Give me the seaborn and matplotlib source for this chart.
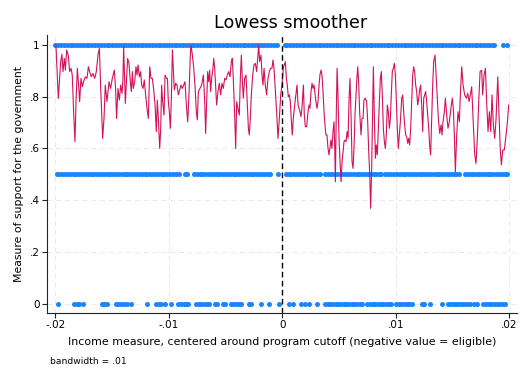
import numpy as np
import pandas as pd
import matplotlib
matplotlib.use("Agg")
import matplotlib.pyplot as plt
import seaborn as sns

# ---------------- data ----------------
# scatter rows (x positions of observations at each outcome level)
x_one = [-0.02, -0.01975, -0.0195, -0.01925, -0.019, -0.01875, -0.0185, -0.01825, -0.018, -0.01775,
         -0.0175, -0.01725, -0.017, -0.01675, -0.0165, -0.01625, -0.016, -0.01575, -0.0155, -0.01525,
         -0.015, -0.01475, -0.0145, -0.01425, -0.014, -0.01375, -0.0135, -0.01325, -0.013, -0.01275,
         -0.0125, -0.01225, -0.012, -0.01175, -0.0115, -0.01125, -0.011, -0.01075, -0.0105, -0.01025,
         -0.01, -0.00975, -0.0095, -0.00925, -0.009, -0.00875, -0.0085, -0.00825, -0.008, -0.00775,
         -0.0075, -0.00725, -0.007, -0.00675, -0.0065, -0.00625, -0.006, -0.00575, -0.0055, -0.00525,
         -0.005, -0.00475, -0.0045, -0.00425, -0.004, -0.00375, -0.0035, -0.00325, -0.003, -0.00275,
         -0.0025, -0.00225, -0.002, -0.00175, -0.0015, -0.00125, -0.001, -0.00075, -0.0005,
         0.0002, 0.00045, 0.0007, 0.00095, 0.0012, 0.00145, 0.0017, 0.00195, 0.0022, 0.00245,
         0.0027, 0.00295, 0.0032, 0.00345, 0.0037, 0.00395, 0.0042, 0.00445, 0.0047, 0.00495,
         0.0052, 0.00545, 0.0057, 0.00595, 0.0062, 0.00645, 0.0067, 0.00695, 0.0072, 0.00745,
         0.0077, 0.00795, 0.0082, 0.00845, 0.0087, 0.00895, 0.0092, 0.00945, 0.0097, 0.00995,
         0.0102, 0.01045, 0.0107, 0.01095, 0.0112, 0.01145, 0.0117, 0.01195, 0.0122, 0.01245,
         0.0127, 0.01295, 0.0132, 0.01345, 0.0137, 0.01395, 0.0142, 0.01445, 0.0147, 0.01495,
         0.0152, 0.01545, 0.0157, 0.01595, 0.0162, 0.01645, 0.0167, 0.01695, 0.0172, 0.01745,
         0.0177, 0.01795, 0.0182, 0.01845, 0.0187, 0.0195, 0.0198]

x_half = [-0.0199, -0.01965, -0.0194, -0.01915, -0.0189, -0.01865, -0.0184, -0.01815, -0.0179, -0.01765,
          -0.0174, -0.01715, -0.0169, -0.01665, -0.0164, -0.01615, -0.0159, -0.01565, -0.0154, -0.01515,
          -0.0149, -0.01465, -0.0144, -0.01415, -0.0139, -0.01365, -0.0134, -0.01315, -0.0129, -0.01265,
          -0.0124, -0.01215, -0.0119, -0.01165, -0.0114, -0.01115, -0.0109, -0.01065, -0.0104, -0.01015,
          -0.0099, -0.00965, -0.0094, -0.00915, -0.00858, -0.0084,
          -0.0078, -0.00755, -0.0073, -0.00705, -0.0068, -0.00655, -0.0063, -0.00605, -0.0058, -0.00555,
          -0.0053, -0.00505, -0.0048, -0.00455, -0.0043, -0.00405, -0.0038, -0.00355, -0.0033, -0.00305,
          -0.0028, -0.00255, -0.0023, -0.00205, -0.0018, -0.00155, -0.0013, -0.00105, -0.0004,
          0.0003, 0.00055, 0.0008, 0.00105, 0.0013, 0.00155, 0.0018, 0.00205, 0.0023, 0.00255,
          0.0028, 0.00305, 0.0033,
          0.0038, 0.00405, 0.0043, 0.00455, 0.0048, 0.00505, 0.0053, 0.00555, 0.0058, 0.00605,
          0.0063, 0.00655, 0.0068, 0.00705, 0.0073, 0.00755, 0.0078, 0.00805, 0.0083, 0.00855, 0.0087,
          0.0091, 0.00935, 0.0096, 0.00985, 0.0101, 0.01035, 0.0106, 0.01085, 0.0111, 0.01135,
          0.0116, 0.01185, 0.0121, 0.01235, 0.0126, 0.01285, 0.0131, 0.01335, 0.0136, 0.01385,
          0.0141, 0.01435, 0.0146, 0.01485, 0.0151, 0.01535, 0.0156,
          0.0161, 0.01635, 0.0166, 0.01685, 0.0171, 0.01735, 0.0176, 0.01785, 0.0181, 0.01835,
          0.0186, 0.01885, 0.0191, 0.01935, 0.0196, 0.01985]

x_zero = [-0.01975, -0.01837, -0.01813, -0.0179, -0.01755, -0.01593, -0.0157, -0.01543,
          -0.01469, -0.01446, -0.01422, -0.01396, -0.01372, -0.01337, -0.0119,
          -0.01114, -0.0109, -0.01067, -0.01034, -0.00984,
          -0.00917, -0.00893, -0.0087, -0.00847, -0.00829,
          -0.00761, -0.00737, -0.00714, -0.0069, -0.00667, -0.00644, -0.00596, -0.00579,
          -0.00526, -0.00503, -0.00455, -0.00432, -0.00408, -0.00385, -0.00362,
          -0.00296, -0.00273, -0.00191, -0.00117, -0.00026,
          0.00062, 0.00091, 0.00162, 0.002, 0.00238, 0.00303,
          0.00377, 0.004, 0.00424, 0.00447, 0.00471, 0.00494, 0.00518, 0.00541, 0.00565,
          0.00588, 0.00612, 0.00635, 0.00659, 0.00682, 0.007,
          0.0075, 0.00773, 0.00797, 0.0082, 0.00844, 0.00867, 0.00891, 0.00914, 0.00938, 0.00961,
          0.01003, 0.01026, 0.0105, 0.01073, 0.01097, 0.0112, 0.01141,
          0.01229, 0.0125, 0.01302, 0.01406,
          0.01464, 0.01488, 0.01511, 0.01535, 0.01558, 0.01582, 0.01605, 0.01629, 0.01653,
          0.01693, 0.01714,
          0.01773, 0.01796, 0.0182, 0.01843, 0.01867, 0.0189, 0.01914, 0.01937, 0.01964]

# lowess curve (bandwidth = .01)
lowess_x = [-0.01996, -0.01975, -0.01954, -0.01943, -0.01934, -0.01922, -0.01913, -0.01901, -0.01887, -0.01875,
            -0.01863, -0.01852, -0.0184, -0.01828, -0.01819, -0.01807, -0.01796, -0.01787, -0.01775, -0.01763,
            -0.01752, -0.01737, -0.01722, -0.0171, -0.01699, -0.01684, -0.01669, -0.01654, -0.0164, -0.01625,
            -0.01613, -0.01602, -0.01584, -0.01572, -0.01561, -0.01546, -0.01528, -0.01514, -0.01499, -0.01481,
            -0.0147, -0.01461, -0.01449, -0.01437, -0.01425, -0.01413, -0.01405, -0.01399, -0.01384,
            -0.01364, -0.01352, -0.0134, -0.01331, -0.01322, -0.01314, -0.01302, -0.0129, -0.01281, -0.01272,
            -0.0126, -0.01249, -0.0124, -0.01228, -0.01217, -0.01205, -0.01193, -0.01181, -0.01169, -0.01158,
            -0.01146, -0.01134, -0.01122, -0.01111, -0.01102, -0.01093, -0.01081, -0.01072, -0.01064, -0.01055,
            -0.01043, -0.01034, -0.01022, -0.01013, -0.01005, -0.00996, -0.00987, -0.00978, -0.00969, -0.00961,
            -0.00952, -0.0094, -0.00928, -0.00917, -0.00905, -0.00893, -0.00881, -0.0087, -0.00858, -0.00846,
            -0.00834, -0.00823, -0.00811, -0.00805, -0.00793, -0.00781, -0.0077, -0.00758, -0.00749, -0.0074,
            -0.00711, -0.00696, -0.00684, -0.00676, -0.00667, -0.00658, -0.00649, -0.0064, -0.00632, -0.00623,
            -0.00614, -0.00605, -0.00596, -0.00588, -0.00579, -0.00567, -0.00555, -0.00543, -0.00532, -0.0052,
            -0.00508, -0.00496, -0.00485, -0.00473, -0.00461, -0.00449, -0.00441, -0.00432, -0.0042, -0.00411,
            -0.00402, -0.00391, -0.00379, -0.0037, -0.00361, -0.00352, -0.00344, -0.00332, -0.0032, -0.00308,
            -0.00299, -0.00291, -0.00282, -0.00273, -0.00261, -0.0025, -0.00238, -0.00226, -0.00217, -0.00208,
            -0.002, -0.00188, -0.00179, -0.0017, -0.00161, -0.0015, -0.00138, -0.00126, -0.00114, -0.00103,
            -0.00091, -0.00082, -0.00073, -0.00061, -0.0005, -0.00038, -0.00026, -0.00014,
            -0.00003, 0.00009, 0.00018, 0.00027, 0.00036, 0.00044, 0.00053, 0.00062, 0.00071, 0.0008,
            0.00088, 0.00097, 0.00109, 0.00121, 0.0013, 0.00139, 0.00147, 0.00156, 0.00165, 0.00174,
            0.00186, 0.00194, 0.00203, 0.00215, 0.00227, 0.00236, 0.00244, 0.00253, 0.00262, 0.00271,
            0.0028, 0.00288, 0.00297, 0.00306, 0.00315, 0.00324, 0.00332, 0.00341, 0.0035, 0.00359,
            0.00368, 0.00376, 0.00385, 0.00394, 0.00403, 0.00412, 0.00421, 0.00429, 0.00438, 0.00447,
            0.00456, 0.00462, 0.00468, 0.00474, 0.00483, 0.00491, 0.005, 0.00509, 0.00518, 0.00527,
            0.00536, 0.00544, 0.00553, 0.00562, 0.00571, 0.0058, 0.00588, 0.00597, 0.00606, 0.00615,
            0.00624, 0.00632,
            0.00641, 0.00656, 0.00665, 0.00673, 0.00682, 0.00694, 0.00703, 0.00712, 0.0072, 0.00732,
            0.00744, 0.00753, 0.00762, 0.00771, 0.00779, 0.00788, 0.00797, 0.00803, 0.00812, 0.00821,
            0.00829, 0.00838, 0.00847, 0.00856, 0.00865, 0.00873, 0.00882, 0.00891, 0.009, 0.00909,
            0.00917, 0.00926, 0.00935, 0.00944, 0.00953, 0.00961, 0.0097, 0.00979, 0.00988, 0.00997,
            0.01006, 0.01014, 0.01023, 0.01032, 0.01041, 0.01053, 0.01062, 0.0107, 0.01079, 0.01088,
            0.01097, 0.01106, 0.01114, 0.01123, 0.01132, 0.01141, 0.0115, 0.01158, 0.01167, 0.01176,
            0.01185, 0.01194, 0.01203, 0.01211, 0.0122, 0.01229, 0.01238, 0.01247, 0.01255, 0.01264,
            0.01273, 0.01282, 0.01291, 0.01299, 0.01308, 0.01317, 0.01326, 0.01335, 0.01344,
            0.01347, 0.01361, 0.01376, 0.01388, 0.014, 0.01408, 0.01417, 0.01429, 0.01438, 0.0145,
            0.01461, 0.01473, 0.01485, 0.01499, 0.01508, 0.01517, 0.01526, 0.01538, 0.01549, 0.01561,
            0.0157, 0.01582, 0.01594, 0.01608, 0.01623, 0.01635, 0.01647, 0.01658, 0.0167, 0.01682,
            0.01697, 0.01708, 0.0172, 0.01732, 0.01744, 0.01758, 0.01767, 0.01779, 0.01791, 0.01802,
            0.01814, 0.01826, 0.01838, 0.01849, 0.01861, 0.01873, 0.01885, 0.019, 0.01911, 0.01923,
            0.01932, 0.01944, 0.01958, 0.01973, 0.01985, 0.01996]

lowess_y = [1.0, 0.794, 0.936, 0.964, 0.897, 0.948, 0.903, 0.981, 0.959, 0.897,
            0.91, 0.884, 0.742, 0.626, 0.781, 0.91, 0.845, 0.781, 0.871, 0.839,
            0.858, 0.877, 0.871, 0.916, 0.897, 0.877, 0.89, 0.871, 0.897, 0.961,
            0.987, 0.845, 0.639, 0.716, 0.845, 0.781, 0.858, 0.832, 0.871, 0.903,
            0.832, 0.716, 0.832, 0.787, 0.845, 0.813, 0.871, 0.994, 0.774,
            0.948, 0.929, 0.858, 0.82, 0.897, 0.832, 0.858, 0.916, 0.884, 0.923,
            0.877, 0.897, 0.845, 0.832, 0.865, 0.807, 0.755, 0.716, 0.916, 0.871,
            0.871, 0.826, 0.768, 0.665, 0.787, 0.716, 0.6, 0.678, 0.845, 0.781,
            0.729, 0.884, 0.871, 0.871, 0.781, 0.742, 0.678, 0.794, 0.981, 0.91,
            0.826, 0.852, 0.845, 0.807, 0.826, 0.845, 0.832, 0.845, 0.858, 0.768,
            0.703, 0.807, 0.961, 1.0, 0.961, 0.91, 0.845, 0.742, 0.71, 0.82,
            0.845, 0.884, 0.781, 0.658, 0.781, 0.897, 0.858, 0.903, 0.82, 0.871,
            0.897, 0.948, 0.91, 0.845, 0.768, 0.82, 0.852, 0.807, 0.852, 0.832,
            0.871, 0.865, 0.884, 0.897, 0.877, 0.936, 0.948, 0.871, 0.729, 0.6,
            0.781, 0.755, 0.729, 0.871, 0.961, 0.858, 0.794, 0.871, 0.884, 0.768,
            0.678, 0.652, 0.716, 0.807, 0.884, 0.923, 0.929, 0.897, 0.948, 1.0,
            0.936, 0.961, 0.884, 0.845, 0.91, 0.845, 0.807, 0.871, 0.897, 0.91,
            0.91, 0.942, 0.91, 0.82, 0.742, 0.639, 0.716, 0.807,
            0.845, 0.91, 0.923, 0.936, 0.871, 0.845, 0.8, 0.807, 0.781, 0.703,
            0.652, 0.716, 0.768, 0.813, 0.845, 0.768, 0.755, 0.742, 0.723, 0.761,
            0.845, 0.729, 0.684, 0.684, 0.742, 0.768, 0.755, 0.82, 0.852, 0.832,
            0.845, 0.813, 0.781, 0.755, 0.781, 0.845, 0.884, 0.903, 0.884, 0.82,
            0.742, 0.691, 0.652, 0.652, 0.6, 0.575, 0.607, 0.632, 0.6, 0.665,
            0.703, 0.613, 0.471, 0.678, 0.91, 0.807, 0.639, 0.549, 0.471, 0.549,
            0.587, 0.626, 0.632, 0.626, 0.665, 0.639, 0.781, 0.871, 0.729, 0.549,
            0.523, 0.6,
            0.729, 0.858, 0.916, 0.858, 0.742, 0.652, 0.716, 0.716, 0.787, 0.794,
            0.781, 0.703, 0.587, 0.5, 0.368, 0.523, 0.755, 0.916, 0.716, 0.562,
            0.613, 0.575, 0.678, 0.781, 0.871, 0.897, 0.807, 0.678, 0.626, 0.6,
            0.652, 0.768, 0.742, 0.678, 0.716, 0.807, 0.897, 0.91, 0.929, 0.884,
            0.781, 0.678, 0.6, 0.652, 0.703, 0.794, 0.807, 0.742, 0.691, 0.652,
            0.645, 0.62, 0.639, 0.613, 0.678, 0.781, 0.884, 0.916, 0.897, 0.845,
            0.82, 0.768, 0.794, 0.826, 0.845, 0.768, 0.665, 0.794, 0.807, 0.82,
            0.781, 0.729, 0.678, 0.613, 0.575, 0.716, 0.845, 0.936, 0.954,
            0.961, 0.845, 0.716, 0.658, 0.691, 0.652, 0.703, 0.742, 0.794, 0.729,
            0.678, 0.703, 0.749, 0.794, 0.755, 0.652, 0.51, 0.652, 0.742, 0.703,
            0.807, 0.916, 0.845, 0.807, 0.794, 0.813, 0.781, 0.807, 0.839, 0.716,
            0.575, 0.542, 0.639, 0.781, 0.897, 0.903, 0.807, 0.884, 0.91, 0.781,
            0.665, 0.742, 0.665, 0.807, 0.691, 0.639, 0.716, 0.877, 0.729, 0.587,
            0.536, 0.594, 0.594, 0.652, 0.703, 0.768]

support_levels = [0.0, 0.5, 1.0]

x_ticks = [-0.02, -0.01, 0.0, 0.01, 0.02]
x_tick_labels = ["-.02", "-.01", "0", ".01", ".02"]
y_ticks = [0.0, 0.2, 0.4, 0.6, 0.8, 1.0]
y_tick_labels = ["0", ".2", ".4", ".6", ".8", "1"]

# ---------------- plot ----------------
sns.set_theme(style="white")
plt.rcParams["font.family"] = ["DejaVu Sans"]
plt.rcParams["text.color"] = "black"
plt.rcParams["axes.labelcolor"] = "black"
plt.rcParams["xtick.color"] = "black"
plt.rcParams["ytick.color"] = "black"

scatter_df = pd.DataFrame({
    "x": x_zero + x_half + x_one,
    "y": [support_levels[0]] * len(x_zero) + [support_levels[1]] * len(x_half)
         + [support_levels[2]] * len(x_one),
})
line_df = pd.DataFrame({"x": lowess_x, "y": lowess_y})

fig = plt.figure(figsize=(5.28, 3.84), dpi=100)
ax = fig.add_axes([0.0896, 0.1857, 0.8901, 0.7232])

ax.grid(True, color="#e9e9e9", linewidth=0.7, linestyle=(0, (5, 4)))
ax.set_axisbelow(True)

sns.scatterplot(data=scatter_df, x="x", y="y", ax=ax, color="#1a85ff",
                s=13, linewidth=0, zorder=2)
sns.lineplot(data=line_df, x="x", y="y", ax=ax, color="#d41159",
             linewidth=0.8, sort=False, estimator=None, zorder=3)
ax.axvline(0, color="black", linewidth=1.0, linestyle=(0, (4, 2.5)), zorder=4)

ax.set_xlim(-0.02072, 0.02072)
ax.set_ylim(-0.0352, 1.0387)
ax.set_xticks(x_ticks)
ax.set_xticklabels(x_tick_labels, fontsize=7.5)
ax.set_yticks(y_ticks)
ax.set_yticklabels(y_tick_labels, fontsize=7.5)
ax.tick_params(axis="both", direction="out", length=3.5, width=0.8,
               color="#222222", labelcolor="black", pad=2, bottom=True, left=True)

for side in ["top", "right"]:
    ax.spines[side].set_visible(False)
for side in ["left", "bottom"]:
    ax.spines[side].set_color("#222222")
    ax.spines[side].set_linewidth(0.8)

ax.set_xlabel("Income measure, centered around program cutoff (negative value = eligible)",
              fontsize=7.9, labelpad=5, color="black")
ax.set_ylabel("Measure of support for the government", fontsize=7.8, labelpad=4, color="black")
ax.set_title("Lowess smoother", fontsize=12.6, pad=5, color="black", x=0.517)

fig.text(50 / 528, 1 - 361 / 384, "bandwidth = .01", fontsize=6.6, ha="left", va="center",
         color="black")

fig.savefig("out.png", dpi=100)
